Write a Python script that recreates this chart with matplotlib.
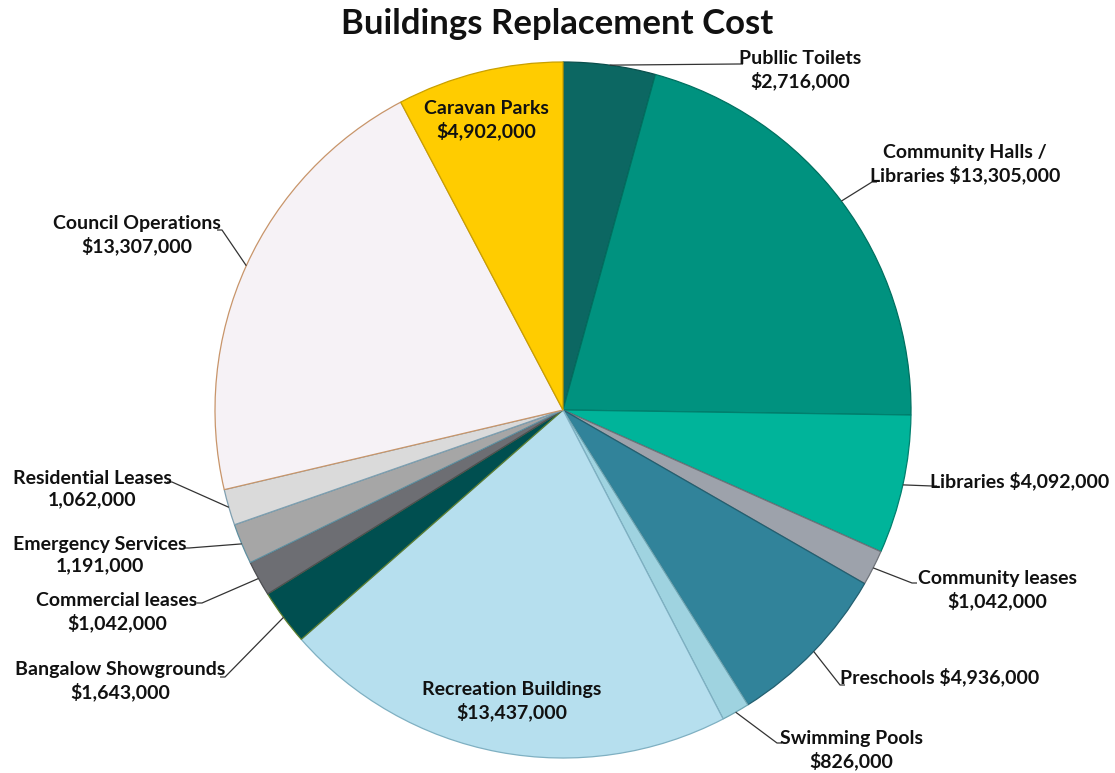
import numpy as np
import matplotlib.pyplot as plt

# building categories, clockwise from 12 o'clock
categories = ["Publlic Toilets", "Community Halls /\nLibraries", "Libraries",
              "Community leases", "Preschools", "Swimming Pools",
              "Recreation Buildings", "Bangalow Showgrounds", "Commercial leases",
              "Emergency Services", "Residential Leases", "Council Operations",
              "Caravan Parks"]
costs = [2716000, 13305000, 4092000, 1042000, 4936000, 826000, 13437000,
         1643000, 1042000, 1191000, 1062000, 13307000, 4902000]
# some labels in the report drop the dollar sign
dollar = [True, True, True, True, True, True, True, True, True,
          False, False, True, True]

colors = ["#0c6762", "#00927f", "#00b49a", "#9da2ab", "#31839a", "#9fd3e0",
          "#b6dfee", "#004f50", "#6d6e73", "#a6a6a6", "#dadada", "#f6f2f6",
          "#ffcc00"]
edges = ["#0a4f4c", "#007060", "#00806e", "#6f737a", "#235f70", "#6fa6b3",
         "#7fb0c2", "#5f7f30", "#4d4e52", "#5f8fa0", "#7f9fb0", "#c8956a",
         "#c9a000"]

W, H = 1115, 773
cx, cy, R = 563, H - 410, 348

fig = plt.figure(figsize=(W / 100, H / 100), dpi=100)
ax = fig.add_axes([0, 0, 1, 1])

wedges, _ = ax.pie(costs, colors=colors, startangle=90, counterclock=False,
                   center=(cx, cy), radius=R,
                   wedgeprops=dict(linewidth=0.9))
for w, ec in zip(wedges, edges):
    w.set_edgecolor(ec)

# pie() resets the limits, so set the pixel frame afterwards
ax.set_xlim(0, W)
ax.set_ylim(0, H)
ax.set_aspect("equal")
ax.axis("off")

font = ["Lato", "DejaVu Sans"]
tc = "#111111"


def label_text(i):
    v = f"{costs[i]:,}"
    if dollar[i]:
        v = "$" + v
    return categories[i], v


# label layout: (x, y) of text centre in image pixels, leader end point or None
layout = {
    0: ((800, 70), (738, 64), "two"),
    1: ((965, 164), (872, 182), "halls"),
    2: ((1020, 481), (932, 486), "one"),
    3: ((997, 590), (912, 583), "two"),
    4: ((940, 677), (840, 685), "one"),
    5: ((851, 750), (777, 743), "two"),
    6: ((512, 701), None, "two"),
    7: ((120, 681), (225, 677), "two"),
    8: ((117, 612), (202, 603), "two"),
    9: ((100, 555), (189, 548), "two"),
    10: ((92, 489), (172, 482), "two"),
    11: ((137, 235), (222, 230), "two"),
    12: ((486, 120), None, "two"),
}

total = sum(costs)
cum = np.cumsum([0] + costs[:-1])
for i in range(len(costs)):
    (tx, ty), end, mode = layout[i]
    name, val = label_text(i)
    if mode == "one":
        s = f"{name} {val}"
    elif mode == "halls":
        s = "Community Halls /\nLibraries " + val
    else:
        s = f"{name}\n{val}"
    ax.text(tx, H - ty, s, ha="center", va="center", fontsize=14,
            fontweight="bold", color=tc, family=font, linespacing=1.32)
    if end is not None:
        mid = np.deg2rad(90 - 360 * (cum[i] + costs[i] / 2) / total)
        px, py = cx + R * np.cos(mid), cy + R * np.sin(mid)
        ex, ey = end[0], H - end[1]
        step = 5 if ex > px else -5
        ax.plot([px, ex, ex + step], [py, ey, ey], color="#333333", lw=0.9,
                solid_capstyle="butt")

ax.text(W / 2, H - 24, "Buildings Replacement Cost", ha="center",
        va="center", fontsize=25, fontweight="bold", color=tc, family=font)

fig.savefig("out.png", dpi=100, facecolor="white")
